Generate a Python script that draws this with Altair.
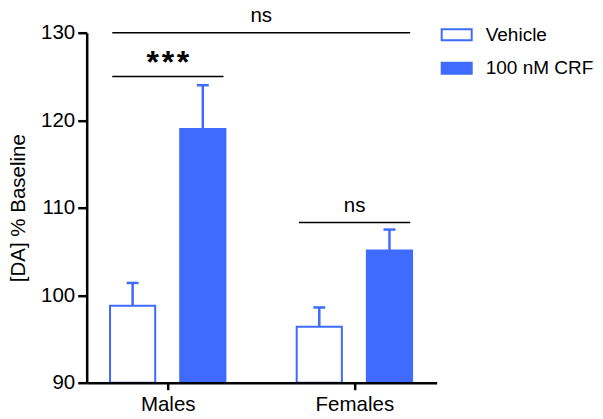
import altair as alt
import pandas as pd

# ---- data ----
groups = ["Males", "Females"]
treatments = ["Vehicle", "100 nM CRF"]
vehicle_mean = [98.8, 96.4]
vehicle_sem = [2.6, 2.2]
crf_mean = [119.0, 105.1]
crf_sem = [5.0, 2.4]

# significance annotations: label, line level, (group, treatment) start -> (group, treatment) end
sig_labels = ["***", "ns", "ns"]
sig_level = [125.0, 130.0, 108.3]
sig_start = [("Males", "Vehicle"), ("Males", "Vehicle"), ("Females", "Vehicle")]
sig_end = [("Males", "100 nM CRF"), ("Females", "100 nM CRF"), ("Females", "100 nM CRF")]

BLUE = "#3F6BFF"
FONT = "Liberation Sans"
FS = 20.5
OFFSET = 0.188     # bar centre offset from the group position
HALF = 0.121       # half bar width
CAP = 0.032        # half cap width

rows = []
for i, g in enumerate(groups):
    for t, m, s, o in [(treatments[0], vehicle_mean[i], vehicle_sem[i], -OFFSET),
                       (treatments[1], crf_mean[i], crf_sem[i], OFFSET)]:
        c = i + o
        rows.append(dict(group=g, treatment=t, mean=m, top=m + s,
                         xc=c, xl=c - HALF, xr=c + HALF, cl=c - CAP, cr=c + CAP))
df = pd.DataFrame(rows)


def bar_x(g, t, side):
    r = df[(df.group == g) & (df.treatment == t)].iloc[0]
    return r.xl if side == "l" else r.xr


ann = pd.DataFrame({
    "label": sig_labels,
    "level": sig_level,
    "x1": [bar_x(g, t, "l") + 0.012 for g, t in sig_start],
    "x2": [bar_x(g, t, "r") - 0.01 for g, t in sig_end],
})
ann["xm"] = (ann.x1 + ann.x2) / 2
ann["shown"] = ann.label.map(lambda s: "\u200a".join(s) if s.startswith("*") else s)

xscale = alt.Scale(domain=[-0.434, 1.441], nice=False, zero=False)
yscale = alt.Scale(domain=[90, 130], nice=False, zero=False)

label_expr = " : ".join(f"datum.value == {i} ? '{g}'" for i, g in enumerate(groups)) + " : ''"

xaxis = alt.Axis(values=list(range(len(groups))), labelExpr=label_expr, title=None,
                 grid=False, domainColor="black", domainWidth=2.5, tickColor="black",
                 tickWidth=2.5, tickSize=7, labelFontSize=FS, labelFont=FONT,
                 labelColor="black", labelPadding=4.5, zindex=1)
yaxis = alt.Axis(values=[90, 100, 110, 120, 130], title="[DA] % Baseline", grid=False,
                 domainColor="black", domainWidth=2.5, tickColor="black", tickWidth=2.5,
                 tickSize=9, labelFontSize=FS, labelFont=FONT, labelColor="black",
                 labelPadding=3, titleFontSize=FS, titleFont=FONT, titleFontWeight="normal",
                 titleColor="black", titlePadding=12, zindex=1)

base = alt.Chart(df)

err = base.mark_rule(color=BLUE, strokeWidth=2.5).encode(
    x=alt.X("xc:Q", scale=xscale, axis=xaxis),
    y=alt.Y("mean:Q", scale=yscale, axis=yaxis),
    y2="top:Q",
)
cap = base.mark_rule(color=BLUE, strokeWidth=2.5).encode(
    x=alt.X("cl:Q", scale=xscale), x2="cr:Q",
    y=alt.Y("top:Q", scale=yscale),
)
bars = base.mark_bar(stroke=BLUE, strokeWidth=2).encode(
    x=alt.X("xl:Q", scale=xscale), x2="xr:Q",
    y=alt.Y("mean:Q", scale=yscale), y2=alt.datum(90),
    fill=alt.Fill("treatment:N", sort=treatments,
                  scale=alt.Scale(domain=treatments, range=["white", BLUE]),
                  legend=alt.Legend(title=None, orient="none", legendX=354, legendY=-14,
                                    symbolType="M-1,-0.37H1V0.37H-1Z", symbolSize=900,
                                    symbolStrokeColor=BLUE, symbolStrokeWidth=2,
                                    labelFontSize=19, labelFont=FONT, labelColor="black",
                                    labelOffset=13, rowPadding=7.5)),
)

annb = alt.Chart(ann)
lines = annb.mark_rule(color="black", strokeWidth=1.5).encode(
    x=alt.X("x1:Q", scale=xscale), x2="x2:Q", y=alt.Y("level:Q", scale=yscale),
)
stars = annb.transform_filter(alt.datum.label == "***").mark_text(
    font=FONT, fontSize=32, fontWeight="bold", color="black", baseline="alphabetic", dy=-3,
).encode(x=alt.X("xm:Q", scale=xscale), y=alt.Y("level:Q", scale=yscale), text="shown:N")
ns = annb.transform_filter(alt.datum.label != "***").mark_text(
    font=FONT, fontSize=FS, color="black", baseline="alphabetic", dy=-11,
).encode(x=alt.X("xm:Q", scale=xscale), y=alt.Y("level:Q", scale=yscale), text="shown:N")

chart = alt.layer(err, cap, bars, lines, stars, ns).properties(
    width=350, height=350,
    autosize=alt.AutoSizeParams(type="none"),
    padding={"left": 78.7, "top": 24.7, "right": 158, "bottom": 28.3},
).configure_view(stroke=None)

chart.save("out.html", embed_options={"renderer": "svg", "actions": False})
